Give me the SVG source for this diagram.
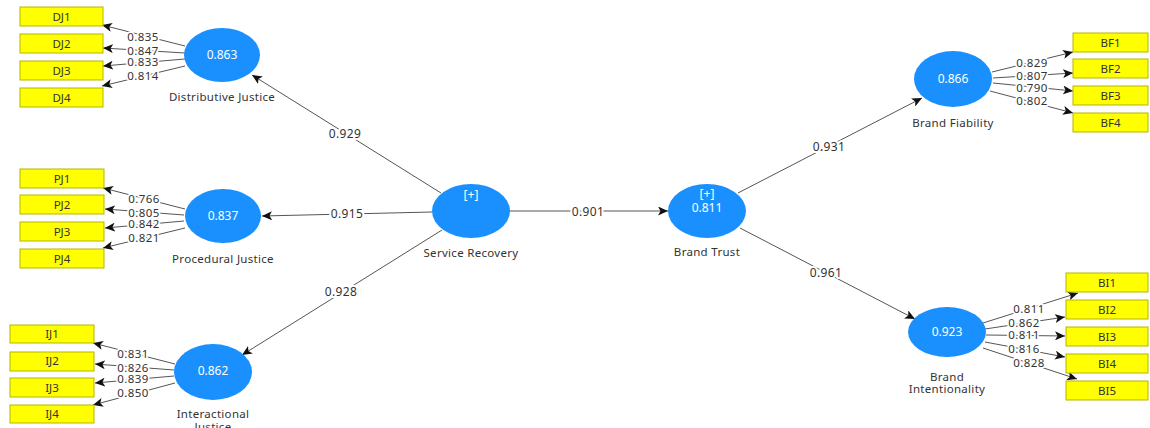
<svg xmlns="http://www.w3.org/2000/svg" width="1150" height="428" viewBox="0 0 1150 428">
  <defs>
    <marker id="arrow" markerUnits="userSpaceOnUse" markerWidth="11" markerHeight="9" refX="10" refY="4.5" orient="auto">
      <path d="M0,0 L10,4.5 L0,9 L2.5,4.5 z" fill="#111"/>
    </marker>
    <style>
      .bg { fill: #ffffff; }
      .ind rect { fill: #ffff00; stroke: #b5b500; stroke-width: 1; }
      .ind text { font-family: "Noto Sans", "Liberation Sans", sans-serif; font-size: 11.5px; fill: #333; text-anchor: middle; }
      .lv ellipse { fill: #1a90ff; }
      .lv .val { font-family: "Noto Sans", "Liberation Sans", sans-serif; font-size: 12px; fill: #ffffff; text-anchor: middle; }
      .lv .name { font-family: "Noto Sans", "Liberation Sans", sans-serif; font-size: 11.5px; letter-spacing: 0.3px; fill: #333; text-anchor: middle; }
      .edges line { stroke: #555; stroke-width: 1; marker-end: url(#arrow); }
      .edges text { font-family: "Noto Sans", "Liberation Sans", sans-serif; font-size: 12px; letter-spacing: 0.4px; fill: #333; text-anchor: middle; paint-order: stroke; stroke: #ffffff; stroke-width: 4px; stroke-linejoin: round; }
      .edges .ld { font-size: 11.5px; stroke-width: 3.5px; }
    </style>
  </defs>
  <rect class="bg" width="1150" height="428"/>

  <!-- connectors -->
  <g id="connectors" class="edges">
    <!-- structural paths -->
    <line x1="441" y1="193" x2="252" y2="75"/>
    <line x1="432" y1="212" x2="262" y2="216"/>
    <line x1="442" y1="230" x2="242" y2="355"/>
    <line x1="510" y1="211" x2="668" y2="211"/>
    <line x1="738" y1="193" x2="922" y2="98"/>
    <line x1="740" y1="228" x2="915" y2="319"/>
    <text x="345" y="138">0.929</text>
    <text x="347" y="218">0.915</text>
    <text x="341" y="296">0.928</text>
    <text x="588" y="216">0.901</text>
    <text x="829" y="151">0.931</text>
    <text x="826" y="277">0.961</text>

    <!-- Distributive Justice loadings -->
    <line x1="185" y1="46" x2="102" y2="25"/>
    <line x1="185" y1="53" x2="103" y2="48"/>
    <line x1="185" y1="59" x2="103" y2="66"/>
    <line x1="185" y1="66" x2="102" y2="86"/>
    <text class="ld" x="143" y="41">0.835</text>
    <text class="ld" x="143" y="55">0.847</text>
    <text class="ld" x="143" y="66">0.833</text>
    <text class="ld" x="143" y="80">0.814</text>

    <!-- Procedural Justice loadings -->
    <line x1="185" y1="209" x2="103" y2="188"/>
    <line x1="184" y1="215" x2="105" y2="209"/>
    <line x1="184" y1="221" x2="105" y2="228"/>
    <line x1="185" y1="228" x2="103" y2="248"/>
    <text class="ld" x="144" y="203">0.766</text>
    <text class="ld" x="144" y="217">0.805</text>
    <text class="ld" x="144" y="228">0.842</text>
    <text class="ld" x="144" y="242">0.821</text>

    <!-- Interactional Justice loadings -->
    <line x1="175" y1="364" x2="93" y2="343"/>
    <line x1="174" y1="370" x2="95" y2="364"/>
    <line x1="174" y1="376" x2="95" y2="383"/>
    <line x1="175" y1="383" x2="93" y2="405"/>
    <text class="ld" x="133" y="358">0.831</text>
    <text class="ld" x="133" y="372">0.826</text>
    <text class="ld" x="133" y="383">0.839</text>
    <text class="ld" x="133" y="397">0.850</text>

    <!-- Brand Fiability loadings -->
    <line x1="992" y1="72" x2="1073" y2="52"/>
    <line x1="993" y1="78" x2="1073" y2="73"/>
    <line x1="993" y1="83" x2="1073" y2="91"/>
    <line x1="990" y1="91" x2="1073" y2="113"/>
    <text class="ld" x="1032" y="67">0.829</text>
    <text class="ld" x="1032" y="80">0.807</text>
    <text class="ld" x="1032" y="92">0.790</text>
    <text class="ld" x="1032" y="105">0.802</text>

    <!-- Brand Intentionality loadings -->
    <line x1="983" y1="323" x2="1078" y2="293"/>
    <line x1="985" y1="329" x2="1065" y2="317"/>
    <line x1="986" y1="335" x2="1065" y2="336"/>
    <line x1="985" y1="342" x2="1065" y2="357"/>
    <line x1="983" y1="348" x2="1077" y2="379"/>
    <text class="ld" x="1029" y="313">0.811</text>
    <text class="ld" x="1024" y="327">0.862</text>
    <text class="ld" x="1024" y="339">0.811</text>
    <text class="ld" x="1024" y="353">0.816</text>
    <text class="ld" x="1029" y="367">0.828</text>
  </g>

  <!-- indicators -->
  <g id="DJ1" class="ind"><rect x="20" y="7" width="83" height="19"/><text x="61.5" y="21">DJ1</text></g>
  <g id="DJ2" class="ind"><rect x="20" y="34" width="83" height="19"/><text x="61.5" y="48">DJ2</text></g>
  <g id="DJ3" class="ind"><rect x="20" y="61" width="83" height="19"/><text x="61.5" y="75">DJ3</text></g>
  <g id="DJ4" class="ind"><rect x="20" y="88" width="83" height="19"/><text x="61.5" y="102">DJ4</text></g>

  <g id="PJ1" class="ind"><rect x="20" y="169" width="84" height="19"/><text x="62" y="183">PJ1</text></g>
  <g id="PJ2" class="ind"><rect x="20" y="195" width="84" height="19"/><text x="62" y="209">PJ2</text></g>
  <g id="PJ3" class="ind"><rect x="20" y="222" width="84" height="19"/><text x="62" y="236">PJ3</text></g>
  <g id="PJ4" class="ind"><rect x="20" y="249" width="84" height="19"/><text x="62" y="263">PJ4</text></g>

  <g id="IJ1" class="ind"><rect x="10" y="325" width="84" height="18"/><text x="52" y="338">IJ1</text></g>
  <g id="IJ2" class="ind"><rect x="10" y="352" width="84" height="19"/><text x="52" y="365">IJ2</text></g>
  <g id="IJ3" class="ind"><rect x="10" y="378" width="84" height="19"/><text x="52" y="392">IJ3</text></g>
  <g id="IJ4" class="ind"><rect x="10" y="405" width="84" height="18"/><text x="52" y="418">IJ4</text></g>

  <g id="BF1" class="ind"><rect x="1073" y="33" width="75" height="19"/><text x="1110.5" y="47">BF1</text></g>
  <g id="BF2" class="ind"><rect x="1073" y="59" width="75" height="19"/><text x="1110.5" y="73">BF2</text></g>
  <g id="BF3" class="ind"><rect x="1073" y="86" width="75" height="19"/><text x="1110.5" y="100">BF3</text></g>
  <g id="BF4" class="ind"><rect x="1073" y="113" width="75" height="19"/><text x="1110.5" y="127">BF4</text></g>

  <g id="BI1" class="ind"><rect x="1066" y="273" width="82" height="19"/><text x="1107" y="287">BI1</text></g>
  <g id="BI2" class="ind"><rect x="1066" y="300" width="82" height="19"/><text x="1107" y="314">BI2</text></g>
  <g id="BI3" class="ind"><rect x="1066" y="327" width="82" height="19"/><text x="1107" y="341">BI3</text></g>
  <g id="BI4" class="ind"><rect x="1066" y="354" width="82" height="19"/><text x="1107" y="368">BI4</text></g>
  <g id="BI5" class="ind"><rect x="1066" y="381" width="82" height="19"/><text x="1107" y="395">BI5</text></g>

  <!-- latent variables -->
  <g id="distributive-justice" class="lv">
    <ellipse cx="222" cy="55" rx="38" ry="27"/>
    <text class="val" x="222" y="59">0.863</text>
    <text class="name" x="222" y="101">Distributive Justice</text>
  </g>
  <g id="procedural-justice" class="lv">
    <ellipse cx="223" cy="216" rx="38" ry="27"/>
    <text class="val" x="223" y="220">0.837</text>
    <text class="name" x="223" y="263">Procedural Justice</text>
  </g>
  <g id="interactional-justice" class="lv">
    <ellipse cx="213" cy="372" rx="39" ry="28"/>
    <text class="val" x="213" y="375">0.862</text>
    <text class="name" x="213" y="418">Interactional</text>
    <text class="name" x="213" y="431">Justice</text>
  </g>
  <g id="service-recovery" class="lv">
    <ellipse cx="471" cy="211" rx="39" ry="27"/>
    <text class="val" x="471" y="199">[+]</text>
    <text class="name" x="471" y="257">Service Recovery</text>
  </g>
  <g id="brand-trust" class="lv">
    <ellipse cx="707" cy="211" rx="39" ry="27"/>
    <text class="val" x="707" y="198">[+]</text>
    <text class="val" x="707" y="212">0.811</text>
    <text class="name" x="707" y="256">Brand Trust</text>
  </g>
  <g id="brand-fiability" class="lv">
    <ellipse cx="953" cy="79" rx="39" ry="28"/>
    <text class="val" x="953" y="83">0.866</text>
    <text class="name" x="953" y="127">Brand Fiability</text>
  </g>
  <g id="brand-intentionality" class="lv">
    <ellipse cx="947" cy="332" rx="39" ry="25"/>
    <text class="val" x="947" y="336">0.923</text>
    <text class="name" x="947" y="381">Brand</text>
    <text class="name" x="947" y="393">Intentionality</text>
  </g>
</svg>
